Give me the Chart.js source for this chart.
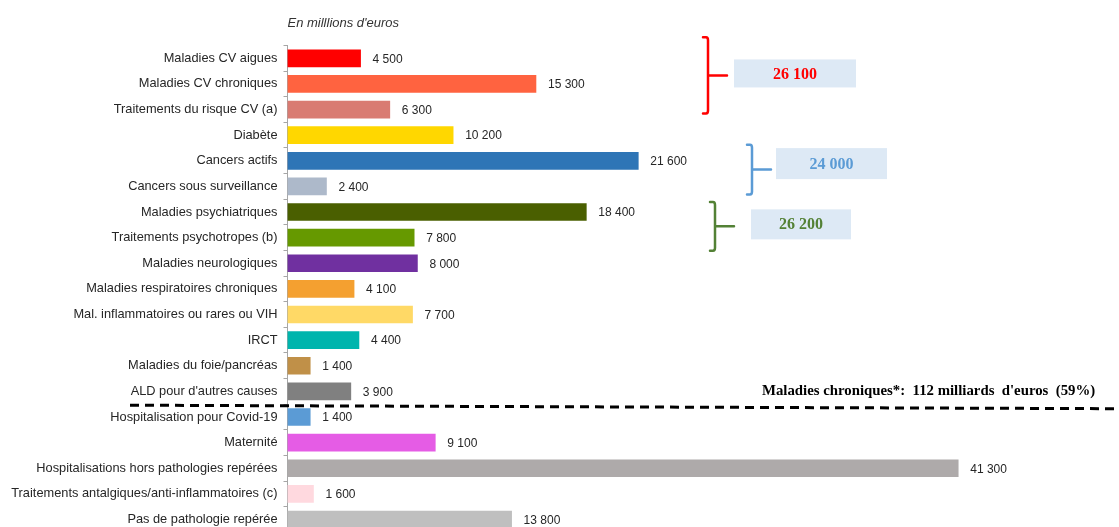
<!DOCTYPE html>
<html>
<head>
<meta charset="utf-8">
<script src="https://cdn.jsdelivr.net/npm/chart.js@4.4.0/dist/chart.umd.min.js"></script>
<style>
  html, body { margin: 0; padding: 0; background: #fff; overflow: hidden; }
  canvas { display: block; }
</style>
</head>
<body>
<canvas id="myChart" width="1119" height="546"></canvas>
<script>
// Dépenses par pathologie, en millions d'euros
const categories = [
  'Maladies CV aigues',
  'Maladies CV chroniques',
  'Traitements du risque CV (a)',
  'Diabète',
  'Cancers actifs',
  'Cancers sous surveillance',
  'Maladies psychiatriques',
  'Traitements psychotropes (b)',
  'Maladies neurologiques',
  'Maladies respiratoires chroniques',
  'Mal. inflammatoires ou rares ou VIH',
  'IRCT',
  'Maladies du foie/pancréas',
  'ALD pour d\'autres causes',
  'Hospitalisation pour Covid-19',
  'Maternité',
  'Hospitalisations hors pathologies repérées',
  'Traitements antalgiques/anti-inflammatoires (c)',
  'Pas de pathologie repérée'
];
const values = [4500, 15300, 6300, 10200, 21600, 2400, 18400, 7800, 8000, 4100,
                7700, 4400, 1400, 3900, 1400, 9100, 41300, 1600, 13800];
const barColors = [
  '#ff0000', '#ff6340', '#d97b72', '#ffd700', '#2e75b6', '#adb9ca',
  '#4a5f00', '#669900', '#7030a0', '#f4a030', '#ffd966', '#00b5ad',
  '#c09048', '#808080', '#5b9bd5', '#e55ce5', '#aeaaaa', '#ffd9df', '#bfbfbf'
];
const unitLabel = 'En milllions d\'euros';
const chronicNote = 'Maladies chroniques*:  112 milliards  d\'euros  (59%)';

// groupes avec accolade + total (indices de début / fin)
const groups = [
  { first: 0, last: 2, color: '#ff0000', bx: 708, top: -21, bottom: 4, boxX: 734, boxW: 122, boxDy: -2, boxH: 28 },
  { first: 4, last: 5, color: '#5b9bd5', bx: 752, top: -16, bottom: 8, boxX: 776, boxW: 111, boxDy: -6, boxH: 31 },
  { first: 6, last: 7, color: '#538135', bx: 715, top: -10, bottom: 13, boxX: 751, boxW: 100, boxDy: -2, boxH: 30 }
];

const sansFont = '"Liberation Sans", Arial, sans-serif';
const serifFont = '"Liberation Serif", "Times New Roman", serif';

function fmt(v) {
  return String(v).replace(/\B(?=(\d{3})+(?!\d))/g, ' ');
}

const annotations = {
  id: 'annotations',
  afterDatasetsDraw(chart) {
    const { ctx, chartArea } = chart;
    const bars = chart.getDatasetMeta(0).data;
    ctx.save();

    // valeurs au bout des barres
    ctx.font = '12px ' + sansFont;
    ctx.fillStyle = '#262626';
    ctx.textAlign = 'left';
    ctx.textBaseline = 'middle';
    bars.forEach((bar, i) => {
      ctx.fillText(fmt(values[i]), bar.x + 12, bar.y + 1);
    });

    // unité
    ctx.font = 'italic 13px ' + sansFont;
    ctx.fillStyle = '#333';
    ctx.fillText(unitLabel, chartArea.left, 23);

    // accolades et totaux
    groups.forEach(g => {
      const y0 = bars[g.first].y + g.top;
      const y1 = bars[g.last].y + g.bottom;
      const mid = (y0 + y1) / 2;
      const x = g.bx;
      ctx.strokeStyle = g.color;
      ctx.lineWidth = 2.5;
      ctx.lineCap = 'round';
      ctx.beginPath();
      ctx.moveTo(x - 5, y0);
      ctx.lineTo(x - 2, y0);
      ctx.quadraticCurveTo(x, y0, x, y0 + 3);
      ctx.lineTo(x, y1 - 3);
      ctx.quadraticCurveTo(x, y1, x - 2, y1);
      ctx.lineTo(x - 5, y1);
      ctx.moveTo(x, mid);
      ctx.lineTo(x + 19, mid);
      ctx.stroke();

      const by = mid + g.boxDy - g.boxH / 2;
      ctx.fillStyle = '#dde9f5';
      ctx.fillRect(g.boxX, by, g.boxW, g.boxH);

      let total = 0;
      for (let i = g.first; i <= g.last; i++) total += values[i];
      ctx.font = 'bold 16px ' + serifFont;
      ctx.fillStyle = g.color;
      ctx.textAlign = 'center';
      ctx.fillText(fmt(total), g.boxX + g.boxW / 2, by + g.boxH / 2 + 1);
    });

    // séparation maladies chroniques / autres
    const sepY = (bars[13].y + bars[14].y) / 2 + 1;
    ctx.strokeStyle = '#000';
    ctx.lineWidth = 3;
    ctx.lineCap = 'butt';
    ctx.setLineDash([9, 6]);
    ctx.beginPath();
    ctx.moveTo(130, sepY);
    ctx.lineTo(chart.width, sepY + 3.5);
    ctx.stroke();
    ctx.setLineDash([]);

    ctx.font = 'bold 14.8px ' + serifFont;
    ctx.fillStyle = '#000';
    ctx.textAlign = 'left';
    ctx.textBaseline = 'alphabetic';
    ctx.fillText(chronicNote, 762, sepY - 10);

    ctx.restore();
  }
};

const ctx = document.getElementById('myChart').getContext('2d');
const chart = new Chart(ctx, {
  type: 'bar',
  data: {
    labels: categories,
    datasets: [{
      data: values,
      backgroundColor: barColors,
      borderWidth: 0,
      barThickness: 17
    }]
  },
  options: {
    indexAxis: 'y',
    responsive: false,
    animation: false,
    layout: { padding: { left: 0, right: 19.5, top: 45.5, bottom: 2 } },
    plugins: {
      legend: { display: false },
      tooltip: { enabled: false }
    },
    scales: {
      x: {
        display: false,
        min: 0,
        max: 50000
      },
      y: {
        afterFit(scale) { scale.width = 287.5; },
        grid: {
          offset: true,
          drawOnChartArea: false,
          tickLength: 4,
          color: '#a6a6a6'
        },
        border: { color: '#a6a6a6' },
        ticks: {
          padding: 6,
          color: '#262626',
          font: { size: 12.8, family: sansFont }
        }
      }
    }
  },
  plugins: [annotations]
});
</script>
</body>
</html>
